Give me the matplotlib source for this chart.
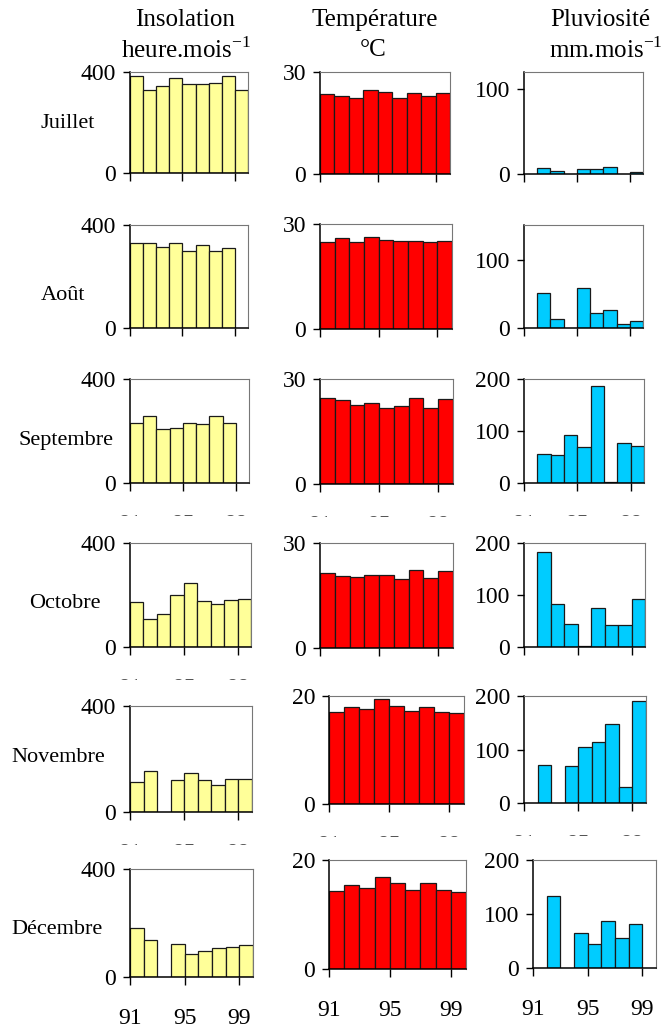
import numpy as np
import matplotlib
matplotlib.use('Agg')
import matplotlib.pyplot as plt
from matplotlib.transforms import Bbox, TransformedBbox

plt.rcParams['font.family'] = ['Liberation Serif', 'DejaVu Serif']

nan = np.nan

# Data
years = [91, 92, 93, 94, 95, 96, 97, 98, 99]
year_ticks = [91, 95, 99]
months = ['Juillet', 'Août', 'Septembre', 'Octobre', 'Novembre', 'Décembre']

# insolation, heure.mois-1
ins_juil = [383, 330, 344, 376, 354, 354, 358, 384, 330]
ins_aout = [329, 329, 313, 332, 300, 323, 300, 309, nan]
ins_sept = [231, 258, 208, 212, 231, 226, 258, 231, nan]
ins_oct = [172, 108, 126, 199, 245, 177, 167, 180, 186]
ins_nov = [112, 153, nan, 121, 148, 122, 103, 126, 126]
ins_dec = [180, 137, nan, 122, 87, 96, 109, 112, 117]

# temperature, degC
temp_juil = [23.4, 22.9, 22.5, 24.8, 24.0, 22.5, 23.7, 22.8, 23.7]
temp_aout = [24.9, 25.9, 24.9, 26.3, 25.4, 25.1, 25.1, 24.9, 25.1]
temp_sept = [24.5, 23.9, 22.5, 23.2, 21.8, 22.2, 24.5, 21.8, 24.2]
temp_oct = [21.3, 20.5, 20.2, 20.9, 20.9, 19.6, 22.2, 19.9, 21.9]
temp_nov = [17.0, 17.9, 17.6, 19.4, 18.2, 17.3, 17.9, 17.0, 16.8]
temp_dec = [14.3, 15.4, 14.8, 16.9, 15.7, 14.5, 15.7, 14.5, 14.1]

# pluviosite, mm.mois-1
pluv_juil = [nan, 7, 3.5, nan, 6, 6, 8.5, nan, 2.5]
pluv_aout = [nan, 52, 13, nan, 59, 22, 26, 6, 11]
pluv_sept = [nan, 55, 53, 92, 69, 187, 1, 76, 71]
pluv_oct = [nan, 183, 83, 45, 2, 75, 42, 42, 93]
pluv_nov = [nan, 71, nan, 69, 105, 114, 148, 29, 190]
pluv_dec = [nan, 133, nan, 64, 44, 87, 55, 82, nan]

insolation = [ins_juil, ins_aout, ins_sept, ins_oct, ins_nov, ins_dec]
temperature = [temp_juil, temp_aout, temp_sept, temp_oct, temp_nov, temp_dec]
pluviosite = [pluv_juil, pluv_aout, pluv_sept, pluv_oct, pluv_nov, pluv_dec]

# layout in pixels: (left, right, top, bottom)
W, H = 664, 1030
ins_boxes = [(130, 248, 72, 173), (130, 248, 225, 328), (130, 249, 379, 483),
             (130, 251, 543, 647), (130, 252, 706, 812), (130, 253, 869, 977)]
temp_boxes = [(320, 450, 72, 174), (320, 452, 224, 329), (320, 453, 379, 484),
              (320, 453, 543, 648), (329, 464, 696, 804), (329, 466, 860, 969)]
pluv_boxes = [(524, 643, 72, 174), (524, 643, 225, 328), (524, 644, 379, 483),
              (524, 645, 543, 647), (524, 646, 696, 803), (533, 656, 860, 968)]
temp_lims = [30, 30, 30, 30, 20, 20]
pluv_lims = [120, 152, 200, 200, 200, 200]
pluv_ticks = [[0, 100], [0, 100], [0, 100, 200], [0, 100, 200],
              [0, 100, 200], [0, 100, 200]]
month_x = [68, 63, 66, 65, 58, 57]
month_y = [123, 296, 440, 603, 757, 929]
# year labels: 'full' on the last row, 'cut' where only the top of the digits shows
ins_xlab = [None, None, 'cut', 'cut', 'cut', 'full']
temp_xlab = [None, None, 'cut', None, 'cut', 'full']
pluv_xlab = [None, None, 'cut', None, 'cut', 'full']

fig = plt.figure(figsize=(W / 100, H / 100), dpi=100)


def panel(box, values, color, top, yticks, xlab):
    l, r, t, b = box
    ax = fig.add_axes([l / W, 1 - b / H, (r - l) / W, (b - t) / H])
    ax.bar(years, values, width=1, align='edge', color=color,
           edgecolor='#1a1a1a', linewidth=0.9, zorder=2)
    ax.set_xlim(91, 100)
    ax.set_ylim(0, top)
    ax.set_yticks(yticks)
    ax.set_xticks(year_ticks)
    if xlab is None:
        ax.set_xticklabels([])
    else:
        ax.set_xticklabels([str(y) for y in year_ticks])
    ax.tick_params(axis='y', direction='out', length=5, width=1, labelsize=17, pad=5)
    ax.tick_params(axis='x', direction='out', length=6, width=1, labelsize=17, pad=16)
    if xlab == 'cut':
        # keep only the top few pixels of the year labels
        clip = Bbox([[0, 1 - (b + 33) / H], [1, 1]])
        for lab in ax.get_xticklabels():
            lab.set_clip_box(TransformedBbox(clip, fig.transFigure))
            lab.set_clip_on(True)
            lab.set_color('#555555')
    for side in ['top', 'right']:
        ax.spines[side].set_color('#777777')
    for side in ['left', 'bottom']:
        ax.spines[side].set_color('black')
        ax.spines[side].set_linewidth(1.1)
    return ax


for i in range(6):
    panel(ins_boxes[i], insolation[i], '#ffff99', 400, [0, 400], ins_xlab[i])
    panel(temp_boxes[i], temperature[i], '#ff0000', temp_lims[i], [0, temp_lims[i]],
          temp_xlab[i])
    panel(pluv_boxes[i], pluviosite[i], '#00ccff', pluv_lims[i], pluv_ticks[i],
          pluv_xlab[i])
    fig.text(month_x[i] / W, 1 - month_y[i] / H, months[i], fontsize=16,
             ha='center', va='center')

# column titles
fig.text(185 / W, 1 - 20 / H, 'Insolation', fontsize=18, ha='center', va='center')
fig.text(186 / W, 1 - 50 / H, 'heure.mois$^{\\mathregular{-1}}$', fontsize=18,
         ha='center', va='center')
fig.text(375 / W, 1 - 20 / H, 'Température', fontsize=18, ha='center', va='center')
fig.text(373 / W, 1 - 50 / H, '°C', fontsize=18, ha='center', va='center')
fig.text(600 / W, 1 - 20 / H, 'Pluviosité', fontsize=18, ha='center', va='center')
fig.text(606 / W, 1 - 50 / H, 'mm.mois$^{\\mathregular{-1}}$', fontsize=18,
         ha='center', va='center')

fig.savefig('out.png', dpi=100)
